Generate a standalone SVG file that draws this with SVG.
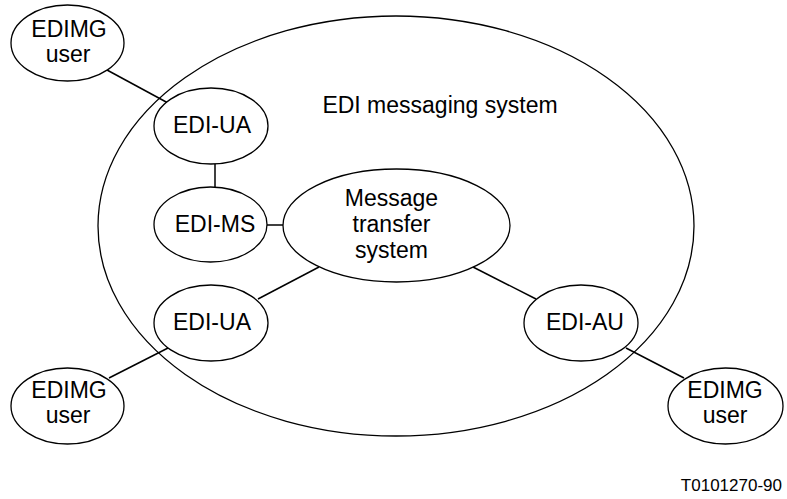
<svg xmlns="http://www.w3.org/2000/svg" width="787" height="499" viewBox="0 0 787 499">
<style>
.n{fill:#fff;stroke:#000;stroke-width:1.3}
.b{fill:none;stroke:#000;stroke-width:1.3}
.c{stroke:#000;stroke-width:1.5;fill:none}
text{font-family:"Liberation Sans",Arial,sans-serif;font-size:23px;fill:#000;text-anchor:middle}
</style>
<rect width="787" height="499" fill="#fff"/>
<g id="system">
<ellipse class="b" cx="396" cy="226" rx="298" ry="210"/>
<text x="440" y="113">EDI messaging system</text>
</g>
<g id="connectors">
<line class="c" x1="107" y1="70" x2="168" y2="103"/>
<line class="c" x1="215" y1="164" x2="215" y2="187"/>
<line class="c" x1="267" y1="225" x2="283" y2="225"/>
<line class="c" x1="258" y1="299" x2="319" y2="267"/>
<line class="c" x1="109" y1="378" x2="168" y2="348"/>
<line class="c" x1="473" y1="267" x2="536" y2="299"/>
<line class="c" x1="626" y1="348" x2="684" y2="378"/>
</g>
<g id="user1">
<ellipse class="n" cx="67.5" cy="43" rx="56.5" ry="38"/>
<text x="69" y="37">EDIMG</text>
<text x="68" y="62">user</text>
</g>
<g id="ua1">
<ellipse class="n" cx="211" cy="126" rx="57" ry="38"/>
<text x="212" y="133">EDI-UA</text>
</g>
<g id="ms">
<ellipse class="n" cx="210.5" cy="224.5" rx="56.5" ry="37.5"/>
<text x="215" y="232">EDI-MS</text>
</g>
<g id="mts">
<ellipse class="n" cx="396.5" cy="225.5" rx="113.5" ry="56.5"/>
<text x="391.5" y="206">Message</text>
<text x="391.5" y="232">transfer</text>
<text x="391.5" y="258">system</text>
</g>
<g id="ua2">
<ellipse class="n" cx="211" cy="323" rx="57" ry="38"/>
<text x="212" y="330">EDI-UA</text>
</g>
<g id="user2">
<ellipse class="n" cx="67.5" cy="406" rx="56.5" ry="38"/>
<text x="69" y="398">EDIMG</text>
<text x="68" y="423">user</text>
</g>
<g id="au">
<ellipse class="n" cx="581" cy="323" rx="57" ry="38"/>
<text x="585" y="330">EDI-AU</text>
</g>
<g id="user3">
<ellipse class="n" cx="725.5" cy="406" rx="57.5" ry="38"/>
<text x="725" y="398">EDIMG</text>
<text x="725" y="423">user</text>
</g>
<text x="782" y="491" style="font-size:17px;text-anchor:end">T0101270-90</text>
</svg>
